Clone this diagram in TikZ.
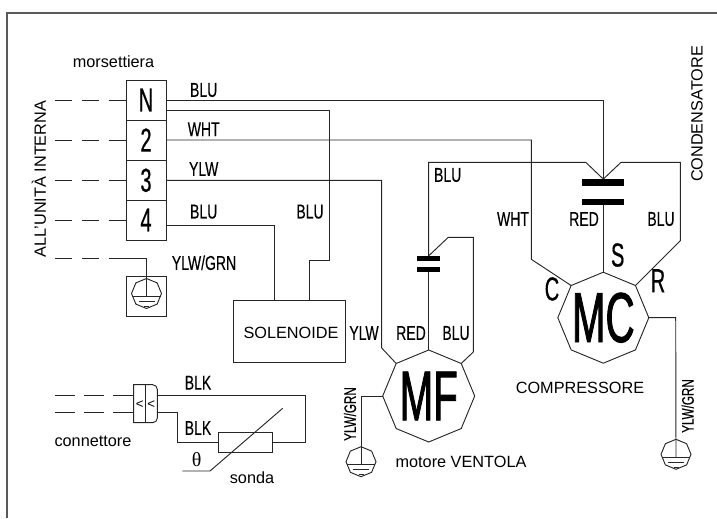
\documentclass[tikz,border=0pt]{standalone}
\usepackage{fontspec}
\usetikzlibrary{shapes.geometric}
\setmainfont{Liberation Sans}
\newfontfamily\cadfont[FakeStretch=0.7,FakeBold=0.25]{Liberation Sans}
\newfontfamily\termfont[FakeStretch=0.6,FakeBold=0.5]{Liberation Sans}
\newfontfamily\motorfont[FakeStretch=0.57,FakeBold=1.2]{Liberation Sans}
\newfontfamily\thetafont{Liberation Serif}
\tikzset{
	wire/.style={line width=0.7pt, black!85},
	dashwire/.style={wire, dash pattern=on 13pt off 7.25pt},
	dashconn/.style={wire, dash pattern=on 15pt off 7pt},
	plate/.style={fill=black, inner sep=0pt, outer sep=0pt},
	term/.style={draw, wire, text=black, inner sep=0pt, outer sep=0pt, minimum width=30pt, minimum height=30pt, font=\termfont\fontsize{25}{25}\selectfont},
	box/.style={draw, wire, inner sep=0pt, outer sep=0pt},
	motor/.style={circle, inner sep=0pt, outer sep=0pt, minimum size=69pt, font=\motorfont\fontsize{53}{53}\selectfont},
	earthsym/.style={circle, inner sep=0pt, outer sep=0pt, minimum size=22.5pt},
	txt/.style={inner sep=0pt, font=\fontsize{12.2}{14}\selectfont},
	tag/.style={inner sep=0pt, font=\cadfont\fontsize{15}{15}\selectfont},
	smalltag/.style={inner sep=0pt, font=\cadfont\fontsize{12.5}{13}\selectfont},
	pole/.style={inner sep=0pt, font=\termfont\fontsize{25}{25}\selectfont},
}
\newcommand{\octagon}[1]{
	\draw [wire] (#1.90) \foreach \a in {135,180,225,270,315,0,45} { -- (#1.\a) } -- cycle;
}
\newcommand{\earthmark}[2]{
	\node [earthsym] (#1) at #2 {};
	\octagon{#1}
	\draw [wire] ([shift={(-14,3)}]#1.center) -- ([shift={(14,3)}]#1.center);
	\draw [wire] ([shift={(-8,8)}]#1.center) -- ([shift={(8,8)}]#1.center);
	\draw [wire] ([shift={(-2.5,13)}]#1.center) -- ([shift={(2.5,13)}]#1.center);
}
\begin{document}
\begin{tikzpicture}[x=0.75pt,y=-0.75pt]
	\useasboundingbox (0,0) rectangle (717,518);

	% frame
	\draw [line width=1.1pt, black!65] (7,518) -- (7,13) -- (717,13);

	% terminal block
	\foreach \n/\lab/\y in {n/N/100,b/2/140,c/3/180.3,d/4/220} {
		\node [term] (t\n) at (146,\y) {\lab};
		\coordinate (d\n) at (54.7,\y);
		\draw [dashwire] (d\n) -- (t\n);
	}
	\node [txt] (mors) at (113.5,61.7) {morsettiera};
	\node [txt, rotate=90] (unita) at (39,179) {ALL'UNITÀ INTERNA};

	% earth of the block
	\node [box, minimum width=30pt, minimum height=30pt] (ebox) at (146,296) {};
	\earthmark{ge}{(146.5,293.5)}
	\coordinate (de) at (54.7,258.7);
	\coordinate (dee) at (110,258.7);
	\draw [dashwire] (de) -- (dee);
	\draw [wire] (dee) -| ([yshift=-2.25pt]ge.center);
	\node [tag] (tgrn) at (204,262.7) {YLW/GRN};

	% solenoid
	\node [box, minimum width=84pt, minimum height=46.8pt] (sol) at (289.7,331.2) {};
	\node [txt] (soltxt) at (291,333) {SOLENOIDE};

	% capacitors
	\node [plate, minimum width=31.5pt, minimum height=4.8pt] (cc1) at (603.3,182.3) {};
	\node [plate, minimum width=31.5pt, minimum height=4.8pt] (cc2) at (603.3,201.7) {};
	\node [plate, minimum width=17.5pt, minimum height=3.6pt] (cf1) at (428.7,258.2) {};
	\node [plate, minimum width=17.5pt, minimum height=3.6pt] (cf2) at (428.7,269.8) {};

	% motors
	\node [motor] (mf) at (428.7,396) {MF};
	\octagon{mf}
	\node [motor, minimum size=68.25pt] (mc) at (603.3,317.7) {MC};
	\octagon{mc}
	\earthmark{gf}{(361,461.7)}
	\earthmark{gc}{(676,454.3)}

	% wires
	\draw [wire] (tn.east) -- (tn.east -| cc1) -- (cc1.north);
	\draw [wire] (166,110.7) -- (329.3,110.7) -- (329.3,260.7) -- (309,260.7) -- (309,300);
	\draw [wire] (tb.east) -- (531.3,140) -- (531.3,259.3) -- (mc.135);
	\draw [wire] (tc.east) -- (381.7,180.3) -- (381.7,348) -- (mf.135);
	\draw [wire] (166,225) -- (274,225) -- (274,300);
	\draw [wire] (cf1.north) -- (428.7,162.3) -- (585.7,162.3) -- (cc1.north);
	\draw [wire] (cc1.north) -- (621,162.3) -- (680.3,162.3) -- (680.3,240.7) -- (mc.45);
	\draw [wire] (cc2.south) -- (mc.90);
	\draw [wire] (cf2.south) -- (mf.90);
	\draw [wire] (cf1.north) -- (448.3,237.3) -- (473.3,237.3) -- (473.3,352) -- (mf.45);
	\draw [wire] (mf.180) -- (361,396) -- ([yshift=-2.25pt]gf.center);
	\draw [wire] (mc.0) -- (675.7,317.7) -- ([yshift=-2.25pt]gc.center);

	% connector and probe
	\node [inner sep=0pt, outer sep=0pt, minimum width=17.7pt, minimum height=28.5pt] (conn) at (145.5,403.7) {};
	\draw [wire] (conn.north west) [rounded corners=3.5pt] -- (conn.north east) -- (conn.south east) [sharp corners] -- (conn.south west) -- cycle;
	\draw [wire] (conn.north) -- (conn.south);
	\node [inner sep=0pt, font=\fontsize{10}{10}\selectfont] (la1) at (139.8,405) {<};
	\node [inner sep=0pt, font=\fontsize{10}{10}\selectfont] (la2) at (151.2,405) {<};
	\coordinate (df) at (54.7,395.7);
	\coordinate (dg) at (54.7,412.7);
	\draw [dashconn] (df) -- (df -| conn.west);
	\draw [dashconn] (dg) -- (dg -| conn.west);
	\node [box, minimum width=40.7pt, minimum height=14.5pt] (ntc) at (245.2,442.4) {};
	\draw [wire] (df -| conn.east) -- (305.3,395.7) -- (305.3,442.4) -- (ntc.east);
	\draw [wire] (dg -| conn.east) -- (177.7,412.7) -- (177.7,442.4) -- (ntc.west);
	\coordinate (pr0) at (182.3,471);
	\coordinate (pr1) at (210,471);
	\coordinate (pr2) at (282.7,408.3);
	\draw [wire] (pr0) -- (pr1) -- (pr2);
	\node [inner sep=0pt, font=\thetafont\fontsize{15}{15}\selectfont] (th) at (196.7,459.3) {θ};

	% labels
	\node [tag] (l1) at (203.7,90) {BLU};
	\node [tag] (l2) at (203.7,129.3) {WHT};
	\node [tag] (l3) at (203.7,169) {YLW};
	\node [tag] (l4) at (203.7,211.7) {BLU};
	\node [tag] (l5) at (310,211.7) {BLU};
	\node [tag] (l6) at (447.7,175) {BLU};
	\node [tag] (l7) at (364,333) {YLW};
	\node [tag] (l8) at (411,333) {RED};
	\node [tag] (l9) at (456,333) {BLU};
	\node [tag] (l10) at (513,219) {WHT};
	\node [tag] (l11) at (584,219) {RED};
	\node [tag] (l12) at (661,219) {BLU};
	\node [tag] (l13) at (198,382.7) {BLK};
	\node [tag] (l14) at (198,428) {BLK};
	\node [smalltag, rotate=90] (l15) at (350,414) {YLW/GRN};
	\node [smalltag, rotate=90] (l16) at (687.7,406) {YLW/GRN};
	\node [pole] (ps) at (617.7,255) {S};
	\node [pole] (pc) at (552,289) {C};
	\node [pole] (pr) at (658,280.7) {R};
	\node [txt] (ncond) at (697,114) [rotate=90] {CONDENSATORE};
	\node [txt] (ncomp) at (580,388) {COMPRESSORE};
	\node [txt] (nmot) at (461,461.7) {motore VENTOLA};
	\node [txt] (ncon) at (93,441.7) {connettore};
	\node [txt] (nson) at (252,478) {sonda};
\end{tikzpicture}
\end{document}
